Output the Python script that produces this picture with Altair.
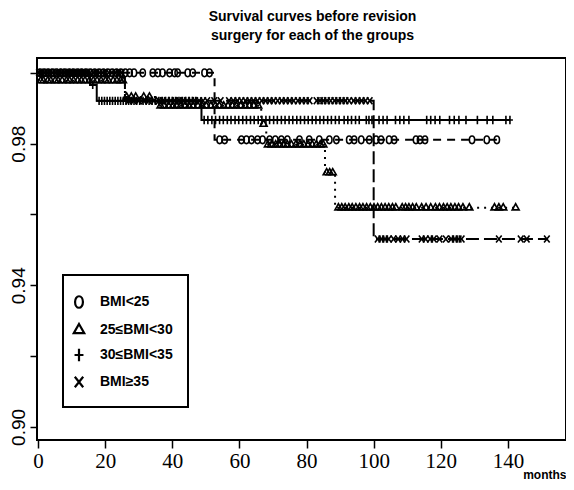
import altair as alt
import pandas as pd

groups = ["BMI<25", "25≤BMI<30", "30≤BMI<35", "BMI≥35"]

# Kaplan-Meier step changes (time in months, survival after the step) and end of follow-up
steps_t = {
    "BMI<25": [52.6],
    "25≤BMI<30": [0.3, 25.9, 35.0, 66.5, 68.0, 85.5, 88.5],
    "30≤BMI<35": [15.5, 17.5, 48.7],
    "BMI≥35": [25.9, 100.0],
}
steps_s = {
    "BMI<25": [0.9811],
    "25≤BMI<30": [0.9978, 0.9932, 0.9907, 0.9855, 0.9797, 0.9718, 0.9619],
    "30≤BMI<35": [0.9966, 0.9921, 0.9867],
    "BMI≥35": [0.9921, 0.9531],
}
end_t = {"BMI<25": 136.7, "25≤BMI<30": 142.3, "30≤BMI<35": 140.6, "BMI≥35": 151.6}

# censoring times (marks)
cens_c = [0.6, 1.8, 3.0, 4.3, 5.5, 6.8, 8.0, 9.3, 10.5, 11.8, 13.0, 14.3, 15.6, 16.9,
          18.2, 19.5, 20.8, 22.1, 23.4, 24.7, 26.0, 27.3, 28.6, 31.2, 34.2, 35.7, 37.1,
          39.2, 40.7, 41.6, 44.6, 46.1, 49.6, 51.1,
          54.1, 55.6, 60.6, 62.1, 63.6, 65.4, 66.9, 69.0, 70.7, 72.5, 74.3, 77.9, 80.8,
          83.8, 86.8, 88.9, 92.7, 94.2, 96.3, 98.7, 100.7, 102.2, 104.6, 106.1, 112.6,
          113.8, 115.3, 129.3, 133.7, 136.7]
cens_t = [0.8, 1.6, 2.9, 3.8, 5.1, 6.0, 7.2, 8.5, 9.4, 10.6, 11.8, 12.9, 14.0, 15.3, 16.5,
          17.6, 18.8, 20.1, 21.0, 22.4, 23.5, 24.6, 25.3,
          26.4, 27.8, 29.1, 31.5, 33.2,
          36.5, 37.6, 38.9, 40.2, 41.3, 42.5, 43.8, 45.0, 46.2, 47.6, 48.9, 50.1, 51.5,
          52.8, 54.0, 55.3, 56.6, 57.9, 59.1, 60.4, 61.7, 63.0, 64.3, 65.6,
          67.2,
          68.5, 69.6, 70.8, 72.0, 73.1, 74.3, 75.5, 76.8, 78.0, 79.2, 80.5, 81.7, 82.9,
          84.1, 85.0,
          86.0, 86.9, 87.8,
          89.5, 90.5, 91.5, 92.6, 93.6, 94.7, 95.8, 96.8, 97.9, 99.0, 100.1, 101.2, 102.3,
          103.4, 104.5, 105.6, 106.6, 108.5, 109.5, 110.5, 111.6, 112.7, 114.3, 115.6,
          117.0, 118.4, 119.6, 120.8, 121.9, 123.0, 124.2, 125.3, 126.6, 128.5, 136.0,
          137.3, 138.6, 142.3]
cens_p = [0.5, 1.3, 2.2, 3.1, 4.0, 4.9, 5.8, 6.7, 7.6, 8.5, 9.4, 10.3, 11.2, 12.1, 13.0,
          14.0, 14.9, 16.3,
          18.2, 19.0, 19.8, 20.6, 21.4, 22.2, 23.0, 23.8, 24.6, 25.4, 26.2, 27.0, 27.8,
          28.6, 29.4, 30.3, 31.3, 32.2, 33.1, 34.0, 35.0, 36.0, 37.0, 38.0, 39.0, 40.0,
          41.0, 42.0, 43.0, 44.0, 45.0, 46.0, 47.0,
          49.5, 50.6, 51.8, 52.9, 54.1, 55.2, 56.4, 57.5, 58.7, 59.8, 61.0, 62.1, 63.3,
          64.4, 65.6, 66.7, 67.9, 69.0, 70.2, 71.3, 72.5, 73.6, 74.8, 75.9, 77.1, 78.2,
          79.4, 80.5, 81.7, 82.8, 84.0, 85.1, 86.3, 87.4, 88.6, 89.7, 91.2, 92.3, 93.4,
          94.6, 95.7, 97.8, 98.6, 99.5, 101.6, 102.8, 104.0, 106.5, 107.8, 109.0, 110.5,
          115.8, 117.0, 118.3, 119.7, 122.6, 124.0, 125.4, 127.5, 130.9, 133.8, 135.5,
          139.4, 140.6]
cens_x = [0.3, 1.1, 1.9, 2.7, 3.5, 4.4, 5.2, 6.0, 6.9, 7.7, 8.6, 9.5, 10.3, 11.2, 12.0,
          12.9, 13.8, 14.7, 15.6, 16.5, 17.4, 18.3, 19.2, 20.1, 21.0, 22.0, 23.0, 24.0,
          25.0,
          27.0, 28.5, 30.0, 31.5, 33.0, 34.5, 36.0, 37.2, 38.4, 39.6, 40.8, 42.0, 43.2,
          44.4, 45.6, 46.8, 48.0, 49.2, 50.4, 52.5, 54.4, 56.9, 58.2, 59.4, 60.6, 61.8,
          63.0, 64.2, 65.4, 66.6, 67.8, 69.0, 70.2, 71.4, 72.6, 73.8, 75.0, 76.2, 77.4,
          78.6, 79.8, 80.9, 83.0, 84.0, 85.0, 86.1, 87.2, 88.3, 89.4, 90.5, 91.6, 92.7,
          94.0, 95.2, 96.4, 97.6, 98.8,
          101.2, 102.3, 103.4, 104.5, 105.9, 107.3, 108.6, 109.8, 114.3, 115.5, 116.8,
          117.9, 119.6, 121.5, 123.1, 124.2, 125.3, 126.2, 137.3, 143.8, 145.6, 151.6]
cens = {"BMI<25": cens_c, "25≤BMI<30": cens_t, "30≤BMI<35": cens_p, "BMI≥35": cens_x}


def surv_at(g, t):
    s = 1.0
    for st, sv in zip(steps_t[g], steps_s[g]):
        if t >= st:
            s = sv
    return s


line_rows = []
for g in groups:
    line_rows.append({"series": g, "time": 0.0, "surv": 1.0})
    for st, sv in zip(steps_t[g], steps_s[g]):
        line_rows.append({"series": g, "time": st, "surv": sv})
    line_rows.append({"series": g, "time": end_t[g], "surv": surv_at(g, end_t[g])})
lines_df = pd.DataFrame(line_rows)

pt_rows = [{"group": g, "time": t, "surv": surv_at(g, t)} for g in groups for t in cens[g]]
pts_df = pd.DataFrame(pt_rows)

shape_paths = [
    "M0,-1.1A0.75,1.1 0 1,1 0,1.1A0.75,1.1 0 1,1 0,-1.1Z",
    "M0,-1.15L1,0.6L-1,0.6Z",
    "M-0.85,0L0.85,0M0,-1.2L0,1.2",
    "M-0.8,-1L0.8,1M-0.8,1L0.8,-1",
]
dashes = [[8, 6], [2, 5], [1, 0], [13, 5]]

x_scale = alt.Scale(domain=[-0.3, 157.3], nice=False, zero=False)
y_scale = alt.Scale(domain=[0.8963, 1.0042], nice=False, zero=False)

x_axis = alt.Axis(values=[0, 20, 40, 60, 80, 100, 120, 140], tickSize=8, tickWidth=1.5,
                  tickColor="black", domain=False, grid=False, labelFontSize=21,
                  labelFont="Liberation Sans Narrow", labelColor="black", labelPadding=2,
                  title="months", titleAnchor="end", titleFontWeight="bold",
                  titleFontSize=12, titleFont="Liberation Sans", titleColor="black",
                  titleY=38, titleBaseline="alphabetic")
y_axis = alt.Axis(values=[0.9, 0.92, 0.94, 0.96, 0.98, 1.0], tickSize=7, tickWidth=1.5,
                  tickColor="black", domain=False, grid=False, labelFontSize=19,
                  labelFont="Liberation Sans", labelColor="black", labelAngle=270,
                  labelAlign="center", labelBaseline="bottom", labelPadding=2,
                  labelOverlap=False,
                  labelExpr="(abs(datum.value-0.90)<0.001 || abs(datum.value-0.94)<0.001 || abs(datum.value-0.98)<0.001) ? format(datum.value,'.2f') : ''",
                  title=None)

lines = alt.Chart(lines_df).mark_line(interpolate="step-after", strokeWidth=2,
                                      color="black").encode(
    x=alt.X("time:Q", scale=x_scale, axis=x_axis),
    y=alt.Y("surv:Q", scale=y_scale, axis=y_axis),
    detail="series:N",
    order="time:Q",
    strokeDash=alt.StrokeDash("series:N", scale=alt.Scale(domain=groups, range=dashes),
                              legend=None),
)

points = alt.Chart(pts_df).mark_point(filled=False, color="black", strokeWidth=1.6,
                                      size=49, opacity=1).encode(
    x=alt.X("time:Q", scale=x_scale),
    y=alt.Y("surv:Q", scale=y_scale),
    shape=alt.Shape("group:N", scale=alt.Scale(domain=groups, range=shape_paths),
                    legend=alt.Legend(title=" ", titleFontSize=5, titlePadding=0,
                                      orient="none", legendX=26, legendY=217,
                                      padding=15, rowPadding=6, strokeColor="black",
                                      fillColor="white", labelFontSize=14,
                                      labelFontWeight="bold", labelFont="Liberation Sans",
                                      labelColor="black", symbolSize=110,
                                      symbolStrokeWidth=2.2, symbolStrokeColor="black",
                                      symbolFillColor="transparent", symbolOffset=-6,
                                      labelOffset=14)),
)

chart = alt.layer(lines, points).resolve_scale(strokeDash="independent", shape="independent").properties(
    width=529, height=382,
    autosize=alt.AutoSizeParams(type="none"),
    padding={"left": 29, "top": 50, "right": 0, "bottom": 42},
    title=alt.Title(["Survival curves before revision", "surgery for each of the groups"],
                    fontSize=14, fontWeight="bold", font="Liberation Sans",
                    anchor="middle", dx=11, offset=15, lineHeight=19, color="black"),
).configure_view(stroke="black", strokeWidth=2).configure_legend(strokeWidth=2)

chart.save("out.html", embed_options={"renderer": "svg", "actions": False})
